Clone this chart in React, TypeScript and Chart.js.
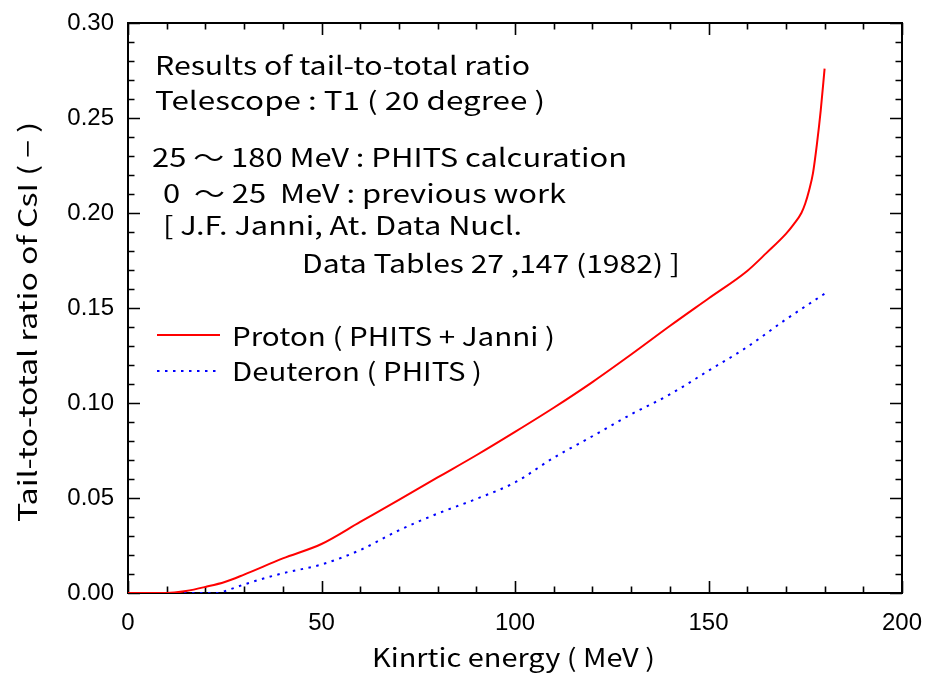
import React, { useEffect, useRef } from "react";
import { Chart, registerables } from "chart.js";

Chart.register(...registerables);

// ---- data ----
const protonEnergy = [0, 5, 10, 12, 15, 20, 25, 30, 40, 50, 60, 70, 80, 90, 100, 110, 120, 130, 140, 150, 160, 165, 170, 172, 174, 175, 176, 177, 178, 179, 180];
const protonRatio = [0, 0, 0, 0.0002, 0.001, 0.0032, 0.0058, 0.0097, 0.0182, 0.0258, 0.0374, 0.049, 0.0608, 0.0725, 0.0848, 0.0975, 0.111, 0.1255, 0.1405, 0.155, 0.1695, 0.179, 0.189, 0.194, 0.2, 0.205, 0.212, 0.221, 0.236, 0.254, 0.276];

const deuteronEnergy = [0, 10, 20, 23, 25, 30, 40, 50, 60, 70, 80, 90, 100, 110, 120, 130, 140, 150, 160, 170, 180];
const deuteronRatio = [0, 0, 0, 0, 0.001, 0.0045, 0.0104, 0.015, 0.0226, 0.033, 0.0418, 0.0495, 0.0582, 0.0712, 0.0825, 0.094, 0.1045, 0.117, 0.1295, 0.144, 0.1575];

const seriesLabels = ["Proton ( PHITS + Janni )", "Deuteron ( PHITS )"];
const xTitle = "Kinrtic energy ( MeV )";
const yTitle = "Tail-to-total ratio of CsI ( − )";
const noteLines = [
  "Results of tail-to-total ratio",
  "Telescope : T1 ( 20 degree )",
  "25 ～ 180 MeV : PHITS calcuration",
  "0  ～ 25  MeV : previous work",
  "[ J.F. Janni, At. Data Nucl.",
  "Data Tables 27 ,147 (1982) ]",
];
const xMin = 0, xMax = 200, xMajor = 50, xMinor = 10;
const yMin = 0, yMax = 0.3, yMajor = 0.05, yMinor = 0.01;

const TEXT_FONT = '25px "Noto Sans CJK JP", "Noto Sans", sans-serif';

function fitText(ctx: CanvasRenderingContext2D, text: string, x: number, y: number, w: number) {
  const m = ctx.measureText(text).width;
  ctx.save();
  ctx.translate(x, y);
  ctx.scale(w / m, 1);
  ctx.textAlign = "left";
  ctx.fillText(text, 0, 0);
  ctx.restore();
}

const framePlugin = {
  id: "frameTicks",
  beforeDatasetsDraw(chart: any) {
    const { ctx, chartArea: a, scales } = chart;
    const xs = scales.x, ys = scales.y;
    ctx.save();
    ctx.strokeStyle = "#000";
    ctx.lineWidth = 1.6;
    const nx = Math.round((xMax - xMin) / xMinor);
    for (let i = 0; i <= nx; i++) {
      const v = xMin + i * xMinor;
      const px = Math.round(xs.getPixelForValue(v)) + 0.5;
      const major = Math.abs(v / xMajor - Math.round(v / xMajor)) < 1e-6;
      const len = major ? 12 : 6.5;
      ctx.beginPath();
      ctx.moveTo(px, a.bottom);
      ctx.lineTo(px, a.bottom - len);
      ctx.moveTo(px, a.top);
      ctx.lineTo(px, a.top + len);
      ctx.stroke();
    }
    const ny = Math.round((yMax - yMin) / yMinor);
    for (let i = 0; i <= ny; i++) {
      const v = yMin + i * yMinor;
      const py = Math.round(ys.getPixelForValue(v)) + 0.5;
      const major = i % Math.round(yMajor / yMinor) === 0;
      const len = major ? 12 : 6.5;
      ctx.beginPath();
      ctx.moveTo(a.left, py);
      ctx.lineTo(a.left + len, py);
      ctx.moveTo(a.right, py);
      ctx.lineTo(a.right - len, py);
      ctx.stroke();
    }
    ctx.lineWidth = 2;
    ctx.strokeRect(a.left, a.top, a.right - a.left, a.bottom - a.top);
    ctx.restore();
  },
  afterDraw(chart: any) {
    const { ctx } = chart;
    ctx.save();
    ctx.fillStyle = "#000";
    ctx.font = TEXT_FONT;
    ctx.textBaseline = "alphabetic";
    fitText(ctx, noteLines[0], 155, 75, 375);
    fitText(ctx, noteLines[1], 155, 110, 390);
    fitText(ctx, noteLines[2], 152, 167, 475);
    fitText(ctx, noteLines[3], 163, 203, 403);
    fitText(ctx, noteLines[4], 163, 235, 359);
    fitText(ctx, noteLines[5], 302, 273, 378);
    ctx.lineWidth = 2;
    ctx.strokeStyle = "#ff0000";
    ctx.beginPath();
    ctx.moveTo(157, 335);
    ctx.lineTo(220, 335);
    ctx.stroke();
    ctx.strokeStyle = "#0000ff";
    ctx.setLineDash([2.5, 5.5]);
    ctx.beginPath();
    ctx.moveTo(157, 371);
    ctx.lineTo(220, 371);
    ctx.stroke();
    ctx.setLineDash([]);
    fitText(ctx, seriesLabels[0], 232, 346, 323);
    fitText(ctx, seriesLabels[1], 232, 381, 250);
    fitText(ctx, xTitle, 372, 667, 283);
    ctx.save();
    ctx.translate(37, 522);
    ctx.rotate(-Math.PI / 2);
    fitText(ctx, yTitle, 0, 0, 400);
    ctx.restore();
    ctx.restore();
  },
};

export default function App() {
  const ref = useRef<HTMLCanvasElement | null>(null);
  useEffect(() => {
    if (!ref.current) return;
    const chart = new Chart(ref.current, {
      type: "line",
      data: {
        datasets: [
          {
            label: seriesLabels[0],
            data: protonEnergy.map((e, i) => ({ x: e, y: protonRatio[i] })),
            borderColor: "#ff0000",
            borderWidth: 2,
            pointRadius: 0,
            cubicInterpolationMode: "monotone",
            fill: false,
          },
          {
            label: seriesLabels[1],
            data: deuteronEnergy.map((e, i) => ({ x: e, y: deuteronRatio[i] })),
            borderColor: "#0000ff",
            borderWidth: 2,
            borderDash: [2.5, 5.5],
            pointRadius: 0,
            cubicInterpolationMode: "monotone",
            fill: false,
          },
        ],
      },
      options: {
        animation: false,
        responsive: false,
        devicePixelRatio: 1,
        layout: { padding: { top: 23, right: 26, left: 0, bottom: 0 } },
        plugins: { legend: { display: false }, tooltip: { enabled: false } },
        scales: {
          x: {
            type: "linear",
            min: xMin,
            max: xMax,
            grid: { display: false, drawTicks: false },
            border: { display: false },
            ticks: {
              stepSize: xMajor,
              padding: 16,
              color: "#000",
              font: { family: '"Liberation Sans", Arial, sans-serif', size: 24 },
              maxRotation: 0,
            },
            afterFit: (s: any) => {
              s.height = 84;
              s.paddingLeft = 0;
              s.paddingRight = 0;
            },
          },
          y: {
            type: "linear",
            min: yMin,
            max: yMax,
            grid: { display: false, drawTicks: false },
            border: { display: false },
            ticks: {
              stepSize: yMajor,
              padding: 14,
              color: "#000",
              font: { family: '"Liberation Sans", Arial, sans-serif', size: 24 },
              callback: (v: any) => Number(v).toFixed(2),
            },
            afterFit: (s: any) => {
              s.width = 128;
              s.paddingTop = 0;
              s.paddingBottom = 0;
            },
          },
        },
      },
      plugins: [framePlugin],
    });
    return () => chart.destroy();
  }, []);
  return (
    <div style={{ position: "absolute", left: 0, top: 0, width: 928, height: 677, background: "#fff" }}>
      <canvas ref={ref} width={928} height={677} style={{ display: "block", width: 928, height: 677 }} />
    </div>
  );
}
